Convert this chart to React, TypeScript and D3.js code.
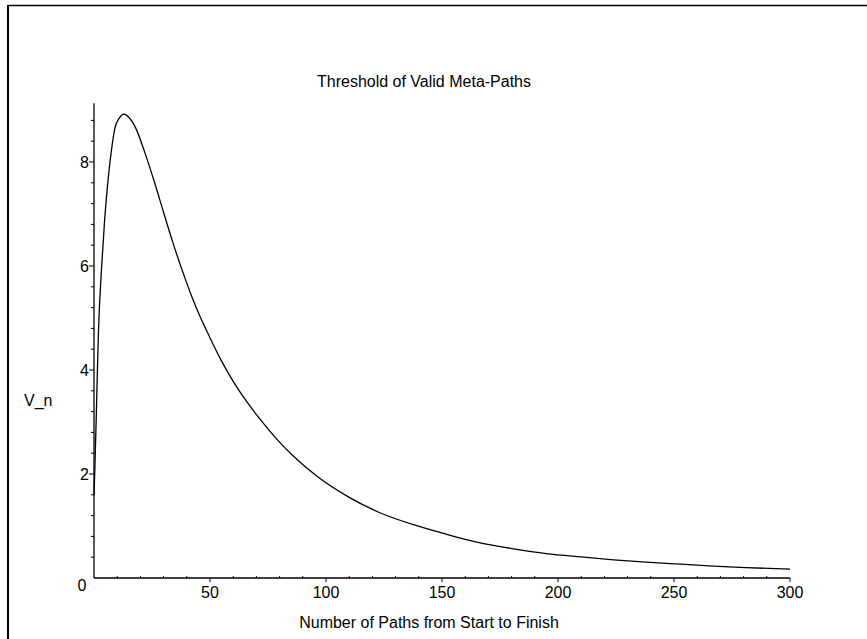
import React from "react";
import * as d3 from "d3";

const pathCounts = [0, 0.4, 1.15, 1.9, 3.3, 4.6, 6.2, 7.6, 9, 11, 12.9, 15, 17.7, 22, 26, 30, 34, 38, 42, 46, 50, 55, 60, 66, 72, 78, 86, 96, 110, 123, 138, 152, 166, 181, 195, 210, 224, 238, 253, 267, 281, 300];
const thresholdValues = [1.6, 2.14, 3.42, 4.71, 5.99, 6.9, 7.72, 8.25, 8.65, 8.85, 8.92, 8.86, 8.68, 8.17, 7.62, 7.03, 6.45, 5.92, 5.43, 5.0, 4.62, 4.17, 3.78, 3.38, 3.03, 2.71, 2.34, 1.96, 1.55, 1.26, 1.02, 0.84, 0.68, 0.56, 0.47, 0.405, 0.35, 0.305, 0.265, 0.23, 0.2, 0.17];
const xTicks = [50, 100, 150, 200, 250, 300];
const yTicks = [2, 4, 6, 8];
const titleText = "Threshold of Valid Meta-Paths";
const xLabel = "Number of Paths from Start to Finish";
const yLabel = "V_n";

const W = 867;
const H = 639;
const FONT = "'Liberation Sans', Arial, sans-serif";

export default function App() {
  const x = d3.scaleLinear().domain([0, 300]).range([94, 790]);
  const y = d3.scaleLinear().domain([0, 1]).range([578, 526]);
  const yTop = 9.13;
  const data = pathCounts.map((n, i) => [n, thresholdValues[i]] as [number, number]);
  const line = d3
    .line<[number, number]>()
    .x((d) => x(d[0]))
    .y((d) => y(d[1]))
    .curve(d3.curveMonotoneX);
  const xMinor = d3.range(10, 300, 10).filter((v) => v % 50 !== 0);
  const yMinor = d3.range(0.4, yTop, 0.4).filter((v) => Math.abs(v / 2 - Math.round(v / 2)) > 0.01);

  return (
    <svg
      width={W}
      height={H}
      style={{ position: "absolute", left: 0, top: 0, background: "#fff" }}
      fontFamily={FONT}
    >
      <rect x={0} y={0} width={W} height={H} fill="#fff" />
      {/* frame */}
      <line x1={8} y1={5} x2={8} y2={H} stroke="#000" strokeWidth={2} />
      <line x1={8} y1={5.5} x2={W} y2={5.5} stroke="#000" strokeWidth={1.5} />

      {/* axes */}
      <line x1={x(0)} y1={y(0)} x2={x(300)} y2={y(0)} stroke="#000" strokeWidth={1.3} />
      <line x1={x(0)} y1={y(0)} x2={x(0)} y2={y(yTop)} stroke="#000" strokeWidth={1.3} />

      {xTicks.map((t) => (
        <g key={"xt" + t}>
          <line x1={x(t)} y1={y(0)} x2={x(t)} y2={y(0) + 4} stroke="#000" strokeWidth={1} />
          <text x={x(t)} y={598} fontSize={16} textAnchor="middle" fill="#000">
            {t}
          </text>
        </g>
      ))}
      {xMinor.map((t) => (
        <line key={"xm" + t} x1={x(t)} y1={y(0)} x2={x(t)} y2={y(0) - 2} stroke="#000" strokeWidth={1} />
      ))}
      {yTicks.map((t) => (
        <g key={"yt" + t}>
          <line x1={x(0) - 5} y1={y(t)} x2={x(0)} y2={y(t)} stroke="#000" strokeWidth={1} />
          <text x={x(0) - 5} y={y(t) + 6} fontSize={16} textAnchor="end" fill="#000">
            {t}
          </text>
        </g>
      ))}
      {yMinor.map((t) => (
        <line key={"ym" + t} x1={x(0) - 3} y1={y(t)} x2={x(0)} y2={y(t)} stroke="#000" strokeWidth={1} />
      ))}
      <text x={82} y={591} fontSize={16} textAnchor="middle" fill="#000">
        0
      </text>

      <path d={line(data) || ""} fill="none" stroke="#000" strokeWidth={1.3} />

      <text x={424} y={87} fontSize={16} textAnchor="middle" fill="#000">
        {titleText}
      </text>
      <text x={429} y={628} fontSize={16} textAnchor="middle" fill="#000">
        {xLabel}
      </text>
      <text x={24} y={406} fontSize={16} textAnchor="start" fill="#000">
        {yLabel}
      </text>
    </svg>
  );
}
